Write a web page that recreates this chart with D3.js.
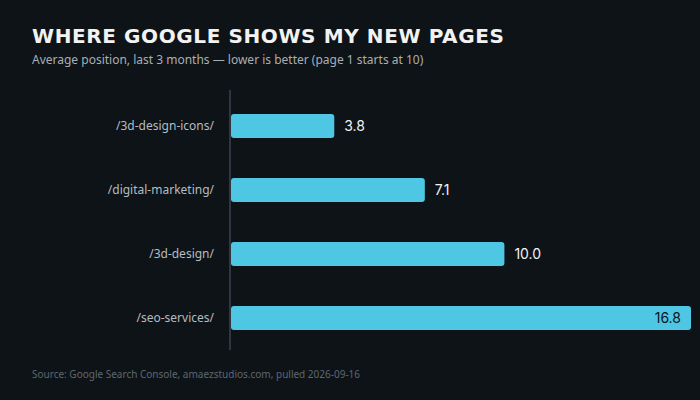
<!DOCTYPE html>
<html><head><meta charset="utf-8">
<script src="https://cdn.jsdelivr.net/npm/d3@7"></script>
<style>body{margin:0;background:#0e1317}</style>
</head><body>
<script>
var pages = ["/3d-design-icons/", "/digital-marketing/", "/3d-design/", "/seo-services/"];
var positions = [3.8, 7.1, 10.0, 16.8];

var width = 700, height = 400;
var svg = d3.select("body").append("svg").attr("width", width).attr("height", height);
svg.append("rect").attr("width", width).attr("height", height).attr("fill", "#0e1317");

svg.append("text").attr("x", 32).attr("y", 43)
  .attr("font-family", "DejaVu Sans").attr("font-weight", "bold").attr("font-size", "20px")
  .attr("letter-spacing", "0.6px").attr("fill", "#f2f2f2")
  .text("WHERE GOOGLE SHOWS MY NEW PAGES");
svg.append("text").attr("x", 32).attr("y", 64)
  .attr("font-family", "Noto Sans").attr("font-size", "12px").attr("fill", "#a9afb5")
  .text("Average position, last 3 months \u2014 lower is better (page 1 starts at 10)");

var x = d3.scaleLinear().domain([0, 16.8]).range([230, 691]);
var y = d3.scaleBand().domain(pages).range([94, 350]).paddingInner(0.625).paddingOuter(0.3125);

svg.append("line").attr("x1", 230).attr("x2", 230).attr("y1", 90).attr("y2", 350)
  .attr("stroke", "#3a4550").attr("stroke-width", 1.5);

var g = svg.selectAll(".bar").data(pages).enter().append("g");
g.append("rect")
  .attr("x", x(0) + 1)
  .attr("y", function(d) { return y(d); })
  .attr("width", function(d, i) { return x(positions[i]) - x(0) - 1; })
  .attr("height", y.bandwidth())
  .attr("rx", 3).attr("fill", "#4ec7e4");

g.append("text")
  .attr("x", 214)
  .attr("y", function(d) { return y(d) + y.bandwidth() / 2; })
  .attr("dy", "0.35em").attr("text-anchor", "end")
  .attr("font-family", "Noto Sans").attr("font-size", "12px").attr("fill", "#b5bcc2")
  .text(function(d) { return d; });

g.append("text")
  .attr("x", function(d, i) { return i === 3 ? x(positions[i]) - 10 : x(positions[i]) + 10; })
  .attr("y", function(d) { return y(d) + y.bandwidth() / 2; })
  .attr("dy", "0.35em")
  .attr("text-anchor", function(d, i) { return i === 3 ? "end" : "start"; })
  .attr("font-family", "Inter").attr("font-size", "14px")
  .attr("fill", function(d, i) { return i === 3 ? "#0e1317" : "#f2f2f2"; })
  .text(function(d, i) { return positions[i].toFixed(1); });

svg.append("text").attr("x", 32).attr("y", 378)
  .attr("font-family", "Noto Sans").attr("font-size", "10px").attr("fill", "#5d6770")
  .text("Source: Google Search Console, amaezstudios.com, pulled 2026-09-16");
</script>
</body></html>
